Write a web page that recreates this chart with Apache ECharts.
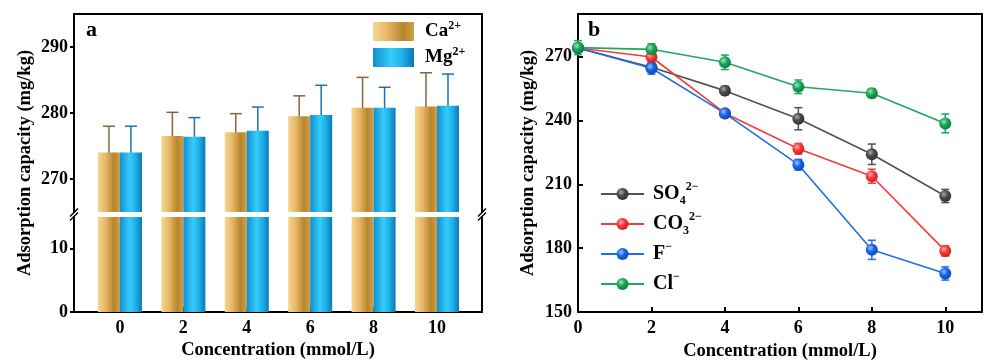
<!DOCTYPE html>
<html>
<head>
<meta charset="utf-8">
<script src="https://cdn.jsdelivr.net/npm/echarts@6/dist/echarts.min.js"></script>
<style>
  html, body { margin: 0; padding: 0; background: #fff; }
  #chart { width: 984px; height: 360px; }
</style>
</head>
<body>
<div id="chart"></div>
<script>
// panel a: Ca2+ / Mg2+ bars (broken axis)
const concA = [0, 2, 4, 6, 8, 10];
const caValues = [274.0, 276.5, 277.1, 279.5, 280.8, 281.0];
const caErrors = [4.0, 3.6, 2.8, 3.1, 4.6, 5.1];
const mgValues = [274.0, 276.4, 277.3, 279.7, 280.8, 281.1];
const mgErrors = [4.0, 2.9, 3.6, 4.5, 3.1, 4.8];
const upperTicks = [270, 280, 290];
const lowerTicks = [0, 10];

// panel b: anions
const concB = [0, 2, 4, 6, 8, 10];
const so4Values = [274.0, 265.0, 254.0, 240.8, 224.1, 204.5];
const so4Errors = [1.0, 1.0, 2.0, 5.2, 4.8, 3.1];
const co3Values = [274.0, 269.8, 243.4, 226.7, 213.8, 178.7];
const co3Errors = [1.0, 1.5, 1.5, 2.5, 3.3, 2.4];
const fValues = [274.0, 264.5, 243.3, 219.2, 179.2, 168.1];
const fErrors = [1.0, 2.8, 1.5, 2.5, 4.5, 3.1];
const clValues = [274.2, 273.4, 267.3, 255.8, 252.8, 238.6];
const clErrors = [3.3, 2.6, 3.4, 3.2, 2.1, 4.4];
const bTicks = [150, 180, 210, 240, 270];

const FONT = "'Liberation Serif', 'Times New Roman', serif";
const chart = echarts.init(document.getElementById('chart'));

const caGrad = new echarts.graphic.LinearGradient(0, 0, 1, 0, [
  { offset: 0, color: '#f7d590' },
  { offset: 0.35, color: '#e6b767' },
  { offset: 0.72, color: '#b7852b' },
  { offset: 1, color: '#cf9f4a' }
]);
const mgGrad = new echarts.graphic.LinearGradient(0, 0, 1, 0, [
  { offset: 0, color: '#1190cf' },
  { offset: 0.45, color: '#35cdfb' },
  { offset: 0.72, color: '#1eaee6' },
  { offset: 1, color: '#0a78b8' }
]);

function ball(light, base, dark) {
  return new echarts.graphic.RadialGradient(0.38, 0.35, 0.7, [
    { offset: 0, color: light },
    { offset: 0.45, color: base },
    { offset: 1, color: dark }
  ]);
}

function errorBars(name, xIdx, yIdx, xs, vals, errs, color, offset, capHalf) {
  return {
    type: 'custom',
    name: name,
    xAxisIndex: xIdx,
    yAxisIndex: yIdx,
    silent: true,
    data: xs.map((x, i) => [x, vals[i] - errs[i], vals[i] + errs[i]]),
    encode: { x: 0, y: [1, 2] },
    renderItem: function (params, api) {
      const lo = api.coord([api.value(0), api.value(1)]);
      const hi = api.coord([api.value(0), api.value(2)]);
      const x = lo[0] + offset;
      const st = { stroke: color, lineWidth: 1.5 };
      return {
        type: 'group',
        children: [
          { type: 'line', shape: { x1: x, y1: lo[1], x2: x, y2: hi[1] }, style: st },
          { type: 'line', shape: { x1: x - capHalf, y1: hi[1], x2: x + capHalf, y2: hi[1] }, style: st },
          { type: 'line', shape: { x1: x - capHalf, y1: lo[1], x2: x + capHalf, y2: lo[1] }, style: st }
        ]
      };
    }
  };
}

function lineSeries(name, vals, lineColor, fill) {
  return {
    type: 'line',
    name: name,
    xAxisIndex: 4,
    yAxisIndex: 4,
    data: concB.map((x, i) => [x, vals[i]]),
    symbol: 'circle',
    symbolSize: 12,
    lineStyle: { color: lineColor, width: 1.6 },
    itemStyle: { color: fill, borderWidth: 0 },
    emphasis: { disabled: true }
  };
}

const axisLineStyle = { lineStyle: { color: '#000', width: 2 } };
const labelStyle = { color: '#000', fontFamily: FONT, fontWeight: 'bold', fontSize: 18 };
const nameStyle = { color: '#000', fontFamily: FONT, fontWeight: 'bold', fontSize: 18.5 };
const tickStyle = { lineStyle: { color: '#000', width: 2 } };

function frameAxis(gridIndex, extra) {
  return Object.assign({
    gridIndex: gridIndex,
    type: 'value',
    axisLine: Object.assign({ show: true, onZero: false }, axisLineStyle),
    axisTick: { show: false },
    axisLabel: { show: false },
    splitLine: { show: false }
  }, extra);
}

const richText = {
  sup: { fontFamily: FONT, fontWeight: 'bold', fontSize: 12, verticalAlign: 'top', lineHeight: 9, color: '#000' },
  sub: { fontFamily: FONT, fontWeight: 'bold', fontSize: 12, verticalAlign: 'bottom', lineHeight: 10, color: '#000' }
};
const legendLabels = {
  Ca: 'Ca{sup|2+}',
  Mg: 'Mg{sup|2+}',
  SO4: 'SO{sub|4}{sup|2\u2212}',
  CO3: 'CO{sub|3}{sup|2\u2212}',
  F: 'F{sup|\u2212}',
  Cl: 'Cl{sup|\u2212}'
};

function breakMark(x, y) {
  return {
    type: 'group',
    x: x,
    y: y,
    children: [
      { type: 'line', shape: { x1: -4, y1: 2, x2: 4, y2: -6 }, style: { stroke: '#000', lineWidth: 1.5 } },
      { type: 'line', shape: { x1: -4, y1: 6, x2: 4, y2: -2 }, style: { stroke: '#000', lineWidth: 1.5 } }
    ]
  };
}

const option = {
  animation: false,
  backgroundColor: '#fff',
  grid: [
    { left: 74, right: 502, top: 14, height: 198, outerBoundsMode: 'none' },
    { left: 74, right: 502, top: 217, bottom: 48, outerBoundsMode: 'none' },
    { left: 578, right: 2, top: 14, bottom: 48, outerBoundsMode: 'none' }
  ],
  xAxis: [
    // 0: panel a lower, bottom axis with ticks
    {
      gridIndex: 1, type: 'value', min: -1.45, max: 11.42, position: 'bottom',
      axisLine: Object.assign({ onZero: false }, axisLineStyle),
      axisTick: { show: true, inside: true, length: 5, customValues: concA, lineStyle: tickStyle.lineStyle },
      axisLabel: Object.assign({ customValues: concA, margin: 7 }, labelStyle),
      splitLine: { show: false },
      name: 'Concentration (mmol/L)', nameLocation: 'middle', nameGap: 29, nameTextStyle: nameStyle
    },
    // 1: panel a upper, top frame line
    frameAxis(0, { min: -1.45, max: 11.42, position: 'top' }),
    // 2: panel b bottom
    {
      gridIndex: 2, type: 'value', min: 0, max: 11, position: 'bottom',
      axisLine: Object.assign({ onZero: false }, axisLineStyle),
      axisTick: { show: true, inside: true, length: 5, customValues: concB, lineStyle: tickStyle.lineStyle },
      axisLabel: Object.assign({ customValues: concB, margin: 7 }, labelStyle),
      splitLine: { show: false },
      name: 'Concentration (mmol/L)', nameLocation: 'middle', nameGap: 29, nameTextStyle: nameStyle
    },
    // 3: panel b top frame line
    frameAxis(2, { min: 0, max: 11, position: 'top' }),
    // 4: panel b data axis (same as bottom)
    { gridIndex: 2, type: 'value', min: 0, max: 11, show: false }
  ],
  yAxis: [
    // 0: panel a upper left
    {
      gridIndex: 0, type: 'value', min: 265, max: 295,
      axisLine: Object.assign({ onZero: false }, axisLineStyle),
      axisTick: { show: true, inside: false, length: 4, customValues: upperTicks, lineStyle: tickStyle.lineStyle },
      axisLabel: Object.assign({ customValues: upperTicks, margin: 6 }, labelStyle),
      splitLine: { show: false }
    },
    // 1: panel a upper right frame
    frameAxis(0, { min: 265, max: 295, position: 'right' }),
    // 2: panel a lower left
    {
      gridIndex: 1, type: 'value', min: 0, max: 15,
      axisLine: Object.assign({ onZero: false }, axisLineStyle),
      axisTick: { show: true, inside: false, length: 4, customValues: lowerTicks, lineStyle: tickStyle.lineStyle },
      axisLabel: Object.assign({ customValues: lowerTicks, margin: 6 }, labelStyle),
      splitLine: { show: false }
    },
    // 3: panel a lower right frame
    frameAxis(1, { min: 0, max: 15, position: 'right' }),
    // 4: panel b left
    {
      gridIndex: 2, type: 'value', min: 150, max: 290,
      axisLine: Object.assign({ onZero: false }, axisLineStyle),
      axisTick: { show: true, inside: true, length: 5, customValues: bTicks, lineStyle: tickStyle.lineStyle },
      axisLabel: Object.assign({ customValues: bTicks, margin: 6 }, labelStyle),
      splitLine: { show: false },
      name: 'Adsorption capacity (mg/kg)', nameLocation: 'middle', nameGap: 40, nameTextStyle: nameStyle
    },
    // 5: panel b right frame
    frameAxis(2, { min: 150, max: 290, position: 'right' })
  ],
  legend: [
    {
      data: ['Ca', 'Mg'],
      orient: 'vertical',
      left: 373, top: 19.5, padding: 0,
      itemWidth: 41, itemHeight: 19, itemGap: 2,
      icon: 'rect',
      formatter: n => legendLabels[n],
      textStyle: { color: '#000', fontFamily: FONT, fontWeight: 'bold', fontSize: 19, lineHeight: 24, padding: [0, 0, 0, 6], rich: richText },
      selectedMode: false
    },
    {
      data: ['SO4', 'CO3', 'F', 'Cl'],
      orient: 'vertical',
      left: 600, top: 181, padding: 0,
      itemWidth: 43, itemHeight: 15, itemGap: 4,
      formatter: n => legendLabels[n],
      textStyle: { color: '#000', fontFamily: FONT, fontWeight: 'bold', fontSize: 20, lineHeight: 26, padding: [0, 0, 0, 4], rich: richText },
      selectedMode: false
    }
  ],
  series: [
    { type: 'bar', name: 'Ca', xAxisIndex: 1, yAxisIndex: 0, data: concA.map((x, i) => [x, caValues[i]]), barWidth: 22, barGap: '0%', itemStyle: { color: caGrad }, clip: true, silent: true },
    { type: 'bar', name: 'Mg', xAxisIndex: 1, yAxisIndex: 0, data: concA.map((x, i) => [x, mgValues[i]]), barWidth: 22, barGap: '0%', itemStyle: { color: mgGrad }, clip: true, silent: true },
    { type: 'bar', name: 'Ca', xAxisIndex: 0, yAxisIndex: 2, data: concA.map((x, i) => [x, caValues[i]]), barWidth: 22, barGap: '0%', itemStyle: { color: caGrad }, clip: true, silent: true },
    { type: 'bar', name: 'Mg', xAxisIndex: 0, yAxisIndex: 2, data: concA.map((x, i) => [x, mgValues[i]]), barWidth: 22, barGap: '0%', itemStyle: { color: mgGrad }, clip: true, silent: true },
    errorBars('errCa', 1, 0, concA, caValues, caErrors, '#85653a', -11, 6),
    errorBars('errMg', 1, 0, concA, mgValues, mgErrors, '#1f6fb2', 11, 6),

    errorBars('errSO4', 4, 4, concB, so4Values, so4Errors, '#505050', 0, 4),
    errorBars('errCO3', 4, 4, concB, co3Values, co3Errors, '#f23a3a', 0, 4),
    errorBars('errF', 4, 4, concB, fValues, fErrors, '#1f6fe0', 0, 4),
    errorBars('errCl', 4, 4, concB, clValues, clErrors, '#1da65c', 0, 4),
    lineSeries('SO4', so4Values, '#525252', ball('#a8a8a8', '#4a4a4a', '#2e2e2e')),
    lineSeries('CO3', co3Values, '#f43b3b', ball('#ffb0b0', '#f53838', '#c81e1e')),
    lineSeries('F', fValues, '#1f6fe0', ball('#9cc4ff', '#1a64e6', '#0c44b0')),
    lineSeries('Cl', clValues, '#1fa85e', ball('#9ee8bb', '#19a556', '#0c7a3c'))
  ],
  graphic: [
    { type: 'text', x: 86, y: 30, style: { text: 'a', font: "bold 22px 'Liberation Serif', serif", fill: '#000', verticalAlign: 'middle' } },
    { type: 'text', x: 588, y: 30, style: { text: 'b', font: "bold 22px 'Liberation Serif', serif", fill: '#000', verticalAlign: 'middle' } },
    { type: 'text', x: 25, y: 163, rotation: Math.PI / 2, style: { text: 'Adsorption capacity (mg/kg)', font: "bold 18.5px 'Liberation Serif', serif", fill: '#000', align: 'center', verticalAlign: 'middle' } },
    breakMark(74, 214.5),
    breakMark(482, 214.5)
  ]
};

chart.setOption(option);
</script>
</body>
</html>
